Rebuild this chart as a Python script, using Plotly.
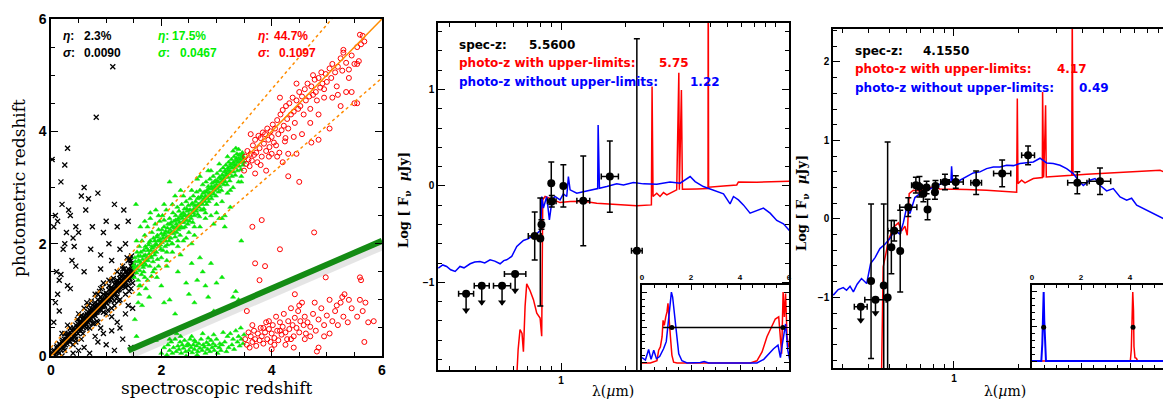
import numpy as np
import plotly.graph_objects as go

# ---------------- data: panel 1 (spec-z vs photo-z) ----------------
black_pts = [(0.05,0.08),(0.08,0.02),(0.1,0.15),(0.12,0.1),(0.15,0.22),(0.17,0.12),(0.2,0.25),(0.22,0.18),(0.24,0.3),(0.26,0.2),
(0.28,0.35),(0.3,0.27),(0.31,0.4),(0.33,0.28),(0.35,0.42),(0.36,0.3),(0.38,0.45),(0.4,0.36),(0.41,0.5),(0.43,0.4),
(0.45,0.55),(0.46,0.42),(0.48,0.52),(0.5,0.46),(0.51,0.6),(0.52,0.5),(0.54,0.62),(0.55,0.48),(0.57,0.66),(0.58,0.55),
(0.6,0.7),(0.61,0.58),(0.62,0.72),(0.63,0.6),(0.65,0.75),(0.66,0.62),(0.68,0.78),(0.69,0.66),(0.7,0.82),(0.71,0.68),
(0.72,0.8),(0.74,0.72),(0.75,0.9),(0.76,0.7),(0.78,0.88),(0.79,0.76),(0.8,0.95),(0.81,0.78),(0.82,0.9),(0.84,0.8),
(0.85,1.0),(0.86,0.82),(0.88,0.96),(0.89,0.86),(0.9,1.05),(0.91,0.88),(0.92,1.0),(0.94,0.9),(0.95,1.1),(0.96,0.92),
(0.98,1.08),(0.99,0.96),(1.0,1.12),(1.01,0.95),(1.02,1.05),(1.04,1.0),(1.05,1.18),(1.06,1.02),(1.08,1.2),(1.09,1.05),
(1.1,1.22),(1.11,1.08),(1.12,1.15),(1.14,1.1),(1.15,1.28),(1.16,1.1),(1.18,1.25),(1.19,1.15),(1.2,1.35),(1.21,1.18),
(1.22,1.3),(1.24,1.2),(1.25,1.38),(1.26,1.22),(1.28,1.35),(1.29,1.25),(1.3,1.45),(1.31,1.28),(1.32,1.4),(1.34,1.3),
(1.35,1.5),(1.36,1.32),(1.38,1.45),(1.39,1.35),(1.4,1.55),(1.41,1.38),(1.42,1.5),(1.44,1.42),(1.45,1.6),(1.46,1.4),
(1.48,1.52),(1.49,1.45),(0.3,0.55),(0.4,0.2),(0.5,0.75),(0.55,0.3),(0.65,0.95),(0.7,0.5),(0.8,1.1),(0.85,0.6),
(0.9,1.2),(1.0,0.75),(1.05,1.35),(1.1,0.85),(1.2,1.5),(1.25,1.0),(1.3,1.6),(1.35,1.1),(1.4,1.7),(1.45,1.2),
(0.95,1.3),(1.15,0.9),(0.6,0.85),(0.45,0.25),(0.2,0.4),(0.15,0.05),(0.25,0.1),(1.38,1.75),(1.42,1.15),(1.48,1.3),
(1.47,1.65),(1.33,1.55),(0.73,0.98),(0.83,0.62),(0.93,1.22),(1.03,0.82),(1.13,1.38),(1.23,0.98),(1.43,1.72),(0.53,0.7),
(0.03,0.05),(0.06,0.1),(0.09,0.06),(0.11,0.18),(0.13,0.08),(0.16,0.2),(0.19,0.15),(0.21,0.28),(0.23,0.14),(0.27,0.3),
(0.29,0.22),(0.32,0.36),(0.34,0.25),(0.37,0.38),(0.39,0.3),(0.42,0.46),(0.44,0.35),(0.47,0.5),(0.49,0.4),(0.5,0.56),
(0.53,0.45),(0.56,0.6),(0.57,0.52),(0.59,0.64),(0.6,0.54),(0.62,0.66),(0.64,0.56),(0.66,0.72),(0.67,0.6),(0.69,0.74),
(0.7,0.64),(0.72,0.76),(0.73,0.66),(0.75,0.82),(0.77,0.74),(0.78,0.82),(0.8,0.72),(0.82,0.86),(0.83,0.78),(0.85,0.92),
(0.87,0.84),(0.88,0.9),(0.9,0.82),(0.92,0.96),(0.93,0.88),(0.95,1.0),(0.97,0.9),(0.98,1.02),(1.0,0.94),(1.02,1.1),
(1.03,0.98),(1.05,1.08),(1.07,1.0),(1.08,1.14),(1.1,1.04),(1.12,1.2),(1.13,1.1),(1.15,1.2),(1.17,1.12),(1.18,1.3),
(1.2,1.16),(1.22,1.25),(1.23,1.18),(1.25,1.32),(1.27,1.25),(1.28,1.4),(1.3,1.3),(1.32,1.36),(1.33,1.28),(1.35,1.42),
(1.37,1.36),(1.38,1.5),(1.4,1.4),(1.42,1.46),(1.43,1.38),(1.45,1.52),(1.47,1.45),(1.48,1.58),(1.5,1.5),(0.55,0.72),
(0.65,0.5),(0.75,0.58),(0.85,1.1),(0.95,0.78),(1.05,1.25),(1.15,0.98),(1.25,1.45),(1.35,1.22),(1.45,1.7),(0.35,0.5),
(0.45,0.3),(0.25,0.4),(1.1,1.35),(1.2,1.05),(1.3,1.55),(1.4,1.25),(1.46,1.78),(1.49,1.6),(0.88,1.15),(0.78,0.58),
(0.68,0.9),(0.58,0.4),(0.48,0.65),
(0.02,3.5),(0.05,2.3),(0.08,2.5),(0.1,1.5),(0.12,2.4),(0.15,1.35),(0.18,3.1),(0.2,2.7),(0.22,1.9),(0.25,2.0),
(0.28,2.2),(0.3,3.7),(0.32,2.6),(0.35,2.5),(0.38,1.7),(0.4,2.1),(0.45,2.3),(0.5,2.2),(0.55,2.85),(0.6,3.0),
(0.63,2.6),(0.68,2.8),(0.72,1.9),(0.75,2.3),(0.82,4.25),(0.85,2.9),(0.9,1.8),(0.95,2.2),(1.0,2.4),(1.05,2.0),
(1.12,5.15),(1.15,2.7),(1.2,2.3),(1.25,1.9),(1.32,2.6),(1.4,2.4),(0.45,1.6),(0.12,1.1),(0.08,0.95),(0.05,0.6),
(0.15,0.8),(0.35,1.2),(0.6,1.5),(0.9,1.55),(1.1,1.7),(1.35,2.0),(0.25,3.4),(0.18,1.45),(0.3,1.25),(0.42,1.95),
(0.2,0.0),(0.4,0.05),(0.6,0.15),(0.7,0.05),(0.8,0.35),(0.9,0.5),(1.0,0.2),(1.1,0.45),(1.15,0.1),(1.2,0.6),
(1.3,0.3),(1.35,0.75),(1.4,0.9),(1.45,0.15),(1.1,0.7),(0.95,0.4),(0.5,0.1),(1.25,0.5),(1.48,0.85),(0.85,0.25)]

green_pts = [(1.50,1.62),(1.51,1.40),(1.52,1.75),(1.53,1.55),(1.54,2.70),(1.55,1.48),(1.56,1.85),(1.57,1.60),(1.58,1.35),(1.59,1.70),
(1.60,1.95),(1.61,1.52),(1.62,1.78),(1.63,1.65),(1.64,1.45),(1.65,2.05),(1.66,1.72),(1.67,1.58),(1.68,1.88),(1.69,1.66),
(1.70,2.15),(1.71,1.80),(1.72,1.62),(1.73,1.92),(1.74,1.75),(1.75,2.30),(1.76,1.70),(1.77,1.98),(1.78,1.82),(1.79,1.60),
(1.80,2.05),(1.81,1.88),(1.82,1.75),(1.83,2.20),(1.84,1.92),(1.85,1.68),(1.86,2.10),(1.87,1.95),(1.88,1.80),(1.89,2.35),
(1.90,2.00),(1.91,1.85),(1.92,2.12),(1.93,1.72),(1.94,2.05),(1.95,2.25),(1.96,1.95),(1.97,2.40),(1.98,2.08),(1.99,1.90),
(2.00,2.18),(2.01,2.02),(2.02,2.50),(2.03,1.88),(2.04,2.15),(2.05,2.30),(2.06,2.05),(2.07,1.95),(2.08,2.22),(2.09,2.60),
(2.10,2.12),(2.11,1.98),(2.12,2.35),(2.13,2.20),(2.14,2.05),(2.15,2.45),(2.16,2.25),(2.17,2.10),(2.18,2.38),(2.19,2.00),
(2.20,2.30),(2.21,2.55),(2.22,2.18),(2.23,2.40),(2.24,2.28),(2.25,2.12),(2.26,2.50),(2.27,2.35),(2.28,2.20),(2.29,2.65),
(2.30,2.42),(2.31,2.25),(2.32,2.58),(2.33,2.38),(2.34,2.15),(2.35,2.48),(2.36,2.30),(2.37,2.70),(2.38,2.45),(2.39,2.28),
(2.40,2.55),(2.41,2.38),(2.42,2.62),(2.43,2.30),(2.44,2.50),(2.45,2.75),(2.46,2.42),(2.47,2.58),(2.48,2.35),(2.49,2.68),
(2.50,2.52),(2.51,2.40),(2.52,2.80),(2.53,2.60),(2.54,2.45),(2.55,2.70),(2.56,2.55),(2.57,2.38),(2.58,2.85),(2.59,2.62),
(2.60,2.50),(2.62,2.75),(2.63,2.58),(2.64,2.92),(2.65,2.68),(2.66,2.52),(2.67,2.82),(2.68,2.65),(2.69,2.48),(2.70,2.95),
(2.71,2.72),(2.72,2.60),(2.73,2.85),(2.74,2.70),(2.75,3.05),(2.76,2.78),(2.77,2.62),(2.78,2.92),(2.79,2.75),(2.80,2.85),
(2.81,3.10),(2.82,2.70),(2.83,2.95),(2.84,2.80),(2.85,3.02),(2.86,2.75),(2.87,2.90),(2.88,3.15),(2.89,2.85),(2.90,2.98),
(2.91,2.80),(2.92,3.08),(2.93,2.92),(2.94,3.20),(2.95,2.88),(2.96,3.02),(2.97,2.95),(2.98,3.12),(2.99,2.85),(3.00,3.05),
(3.01,3.25),(3.02,2.98),(3.03,3.10),(3.04,2.92),(3.05,3.18),(3.06,3.02),(3.07,3.30),(3.08,3.08),(3.09,2.95),(3.10,3.22),
(3.11,3.12),(3.12,3.35),(3.13,3.05),(3.14,3.18),(3.15,3.28),(3.16,3.10),(3.17,3.40),(3.18,3.22),(3.19,3.05),(3.20,3.30),
(3.21,3.18),(3.22,3.45),(3.23,3.25),(3.24,3.12),(3.25,3.38),(3.26,3.28),(3.27,3.50),(3.28,3.20),(3.29,3.35),(3.30,3.42),
(3.31,3.28),(3.32,3.55),(3.33,3.35),(3.34,3.22),(3.35,3.48),(3.36,3.40),(3.37,3.60),(3.38,3.30),(3.39,3.45),(3.40,3.52),
(3.41,3.38),(3.42,3.58),(3.43,3.45),(3.44,3.32),(3.45,3.55),(3.46,3.48),(3.47,3.62),(3.48,3.40),(3.49,3.52),(3.50,3.45),
(1.51,1.58),(1.53,1.68),(1.56,1.55),(1.58,1.78),(1.61,1.68),(1.63,1.85),(1.66,1.62),(1.68,1.78),(1.71,1.95),(1.73,1.70),
(1.76,1.88),(1.78,2.02),(1.81,1.78),(1.83,1.95),(1.86,1.85),(1.88,2.05),(1.91,1.98),(1.93,2.15),(1.96,2.05),(1.98,1.98),
(2.01,2.25),(2.03,2.10),(2.06,2.18),(2.08,2.05),(2.11,2.28),(2.13,2.12),(2.16,2.35),(2.18,2.20),(2.21,2.30),(2.23,2.22),
(2.26,2.42),(2.28,2.30),(2.31,2.45),(2.33,2.28),(2.36,2.52),(2.38,2.38),(2.41,2.50),(2.43,2.42),(2.46,2.62),(2.48,2.48),
(2.51,2.60),(2.53,2.50),(2.56,2.72),(2.58,2.55),(2.61,2.68),(2.63,2.62),(2.66,2.80),(2.68,2.70),(2.71,2.82),(2.73,2.72),
(2.76,2.90),(2.78,2.80),(2.81,2.92),(2.83,2.82),(2.86,2.98),(2.88,2.90),(2.91,3.02),(2.93,2.98),(2.96,3.10),(2.98,3.00),
(3.01,3.12),(3.03,3.02),(3.06,3.18),(3.08,3.15),(3.11,3.22),(3.13,3.15),(3.16,3.30),(3.18,3.25),(3.21,3.35),(3.23,3.30),
(3.26,3.42),(3.28,3.35),(3.31,3.45),(3.33,3.40),(3.36,3.52),(3.38,3.48),(3.41,3.58),(3.43,3.50),(3.46,3.60),(3.48,3.55),
(1.7,2.4),(1.8,2.55),(1.95,2.5),(2.05,2.42),(2.2,2.7),(2.4,2.85),(2.55,2.95),(2.7,3.2),(2.9,3.3),(3.05,3.42),
(3.2,3.55),(3.3,3.65),(3.4,3.68),(3.45,3.1),(3.25,2.95),(3.0,2.7),(2.8,2.55),(2.6,2.3),(2.3,2.05),(2.1,1.85),
(1.55,2.05),(1.6,1.25),(1.62,2.3),(1.7,1.4),(1.75,1.35),(1.8,2.45),(1.85,1.5),(1.9,2.6),(1.95,1.6),(2.0,1.75),
(2.05,2.7),(2.1,1.7),(2.15,3.1),(2.2,1.85),(2.25,2.85),(2.3,1.95),(2.35,2.95),(2.4,2.05),(2.5,2.2),(2.6,2.15),
(2.65,3.15),(2.7,2.3),(2.8,2.45),(2.85,3.3),(2.9,2.5),(3.0,2.55),(3.1,2.75),(3.15,2.5),(3.2,2.9),(3.3,3.0),
(3.35,3.7),(3.4,3.1),(3.45,3.2),(3.48,3.55),(3.05,2.45),(2.95,2.35),(2.75,2.6),(2.55,2.0),(2.45,2.1),(3.25,2.65),
(1.52,0.65),(1.55,0.35),(1.58,0.95),(1.6,1.1),(1.62,1.25),(1.65,0.9),(1.68,1.5),(1.72,1.2),(1.78,1.05),(1.82,1.42),
(1.88,1.55),(1.92,1.4),(2.0,1.25),(2.05,0.95),(2.1,1.6),(2.15,1.0),(2.2,2.0),(2.25,0.75),(2.3,1.5),(2.35,1.8),
(2.45,1.3),(2.5,1.1),(2.55,1.65),(2.6,0.95),(2.65,1.35),(2.7,1.75),(2.75,1.5),(2.8,1.25),(2.85,1.05),(2.9,1.65),
(2.95,0.8),(3.0,1.3),(3.1,1.4),(3.15,2.3),(3.2,0.85),(3.3,1.05),(3.35,1.15),(3.4,1.0),(3.45,2.05),(3.1,2.45),
(1.9,0.28),(2.0,0.05),(2.05,0.15),(2.1,0.02),(2.12,0.2),(2.15,0.1),(2.18,0.25),(2.2,0.05),(2.22,0.15),(2.25,0.3),
(2.27,0.08),(2.3,0.18),(2.32,0.12),(2.34,0.25),(2.36,0.05),(2.38,0.2),(2.4,0.14),(2.42,0.28),(2.44,0.08),(2.46,0.18),
(2.48,0.22),(2.5,0.1),(2.52,0.3),(2.54,0.15),(2.56,0.06),(2.58,0.2),(2.6,0.12),(2.62,0.25),(2.64,0.18),(2.66,0.08),
(2.68,0.22),(2.7,0.14),(2.72,0.3),(2.74,0.1),(2.76,0.2),(2.78,0.16),(2.8,0.05),(2.82,0.24),(2.84,0.12),(2.86,0.2),
(2.88,0.08),(2.9,0.28),(2.92,0.15),(2.94,0.22),(2.96,0.1),(2.98,0.18),(3.0,0.3),(3.02,0.05),(3.05,0.15),(3.08,0.1),
(3.1,0.2),(3.15,0.25),(3.18,0.08),(3.2,0.35),(3.22,0.15),(3.25,0.4),(3.28,0.2),(3.3,0.3),(3.32,0.12),(3.35,0.45),
(3.38,0.25),(3.4,0.35),(3.42,0.18),(3.45,0.3),(3.48,0.22),(3.5,0.38),(2.35,0.35),(2.55,0.35),(2.65,0.02),(2.85,0.32),
(2.45,0.0),(3.12,0.42),(2.28,0.4),(2.95,0.38),(2.75,0.4),(3.44,0.5),(2.15,0.3),(3.06,0.22),(2.6,0.28),(2.5,0.2)]

red_pts = [(3.50,3.30),(3.52,3.55),(3.54,3.42),(3.56,3.65),(3.58,3.50),(3.60,3.38),(3.62,3.60),(3.64,3.48),(3.66,3.75),(3.68,3.58),
(3.70,3.85),(3.72,3.62),(3.74,3.45),(3.76,3.92),(3.78,3.70),(3.80,3.88),(3.82,3.55),(3.84,3.98),(3.86,3.78),(3.88,3.95),
(3.90,3.65),(3.92,4.05),(3.94,3.85),(3.96,3.72),(3.98,4.00),(4.00,3.90),(4.02,4.12),(4.04,3.80),(4.06,4.05),(4.08,3.75),
(4.10,4.20),(4.12,3.95),(4.14,3.62),(4.16,4.30),(4.18,4.02),(4.20,4.38),(4.22,4.10),(4.24,3.82),(4.26,4.45),(4.28,4.22),
(4.30,4.05),(4.32,4.50),(4.35,4.30),(4.38,4.60),(4.40,4.35),(4.42,4.15),(4.45,4.55),(4.48,4.40),(4.50,4.70),(4.52,4.45),
(4.55,4.62),(4.58,4.30),(4.60,4.75),(4.62,4.55),(4.65,4.85),(4.68,4.62),(4.70,4.40),(4.72,4.80),(4.75,4.65),(4.78,4.92),
(4.80,4.70),(4.82,4.55),(4.85,4.95),(4.88,4.78),(4.90,5.05),(4.92,4.85),(4.95,4.60),(4.98,5.02),(5.00,4.88),(5.05,5.12),
(5.08,4.95),(5.10,5.20),(5.15,5.05),(5.18,4.80),(5.20,5.15),(5.25,5.30),(5.28,5.08),(5.30,5.45),(5.35,5.22),(5.40,5.10),
(5.45,5.35),(5.50,5.20),(5.55,5.50),(5.58,5.25),(5.62,5.55),(5.65,5.70),(5.68,5.60),(5.60,5.72),(3.80,3.40),(3.90,3.30),
(4.00,3.60),(4.10,3.55),(4.25,3.88),(4.40,3.90),(4.55,3.95),(4.70,4.15),(4.85,4.30),(4.95,4.75),(5.20,4.65),(5.35,4.70),
(5.45,4.70),(5.55,4.50),(3.70,3.25),(3.62,3.95),(4.15,4.60),(4.45,4.85),(4.75,5.00),(5.30,5.40),(5.55,5.20),(5.40,4.95),
(5.10,4.60),(4.30,3.60),(3.95,3.55),
(3.65,2.30),(3.70,1.65),(3.82,2.42),(3.88,1.60),(3.78,1.35),(4.15,1.90),(4.77,2.20),(4.50,3.10),(4.98,1.40),(4.42,1.10),
(5.60,1.40),(5.62,1.35),(4.20,3.45),(4.72,3.80),(4.85,3.85),(5.05,4.05),(5.25,4.45),(5.50,4.50),(3.55,0.80),(4.30,3.20),
(4.45,3.60),
(3.52,0.30),(3.55,0.20),(3.58,0.42),(3.60,0.15),(3.62,0.35),(3.65,0.25),(3.68,0.45),(3.70,0.30),(3.72,0.18),(3.75,0.40),
(3.78,0.28),(3.80,0.50),(3.82,0.35),(3.85,0.22),(3.88,0.42),(3.90,0.60),(3.92,0.30),(3.95,0.48),(3.98,0.25),(4.00,0.40),
(4.02,0.55),(4.05,0.32),(4.08,0.70),(4.10,0.45),(4.12,0.28),(4.15,0.60),(4.18,0.38),(4.20,0.52),(4.22,0.75),(4.25,0.42),
(4.28,0.30),(4.30,0.62),(4.32,0.48),(4.35,0.85),(4.38,0.55),(4.40,0.35),(4.42,0.68),(4.45,0.50),(4.48,0.80),(4.50,0.42),
(4.52,0.62),(4.55,0.95),(4.58,0.55),(4.60,0.70),(4.62,0.40),(4.65,0.60),(4.70,0.52),(4.75,0.75),(4.80,0.45),(4.85,0.65),
(4.90,0.85),(4.95,0.55),(5.00,0.72),(5.05,1.00),(5.10,0.62),(5.15,0.80),(5.20,0.55),(5.25,0.95),(5.30,0.70),(5.32,1.10),
(5.38,0.60),(5.45,0.85),(5.55,0.70),(5.60,1.00),(5.65,0.80),(5.70,0.95),(5.75,0.60),(5.85,0.62),(5.68,0.25),(4.82,0.08),
(4.85,0.15),(4.95,0.35),(4.40,0.15),(4.00,0.12),(3.85,0.50),(4.25,0.20),(4.60,0.30),(5.05,0.40),(5.18,0.90),(3.95,0.62),
(4.15,0.45),(4.50,0.90),(4.70,0.35),(5.40,1.00),(3.65,0.55),(4.05,0.20),(4.35,0.30),(4.78,0.95),(5.28,1.05)]

eta_labels = ["2.3%", "17.5%", "44.7%"]
sigma_labels = ["0.0090", "0.0467", "0.1097"]
one_to_one = [0, 6]
outlier_frac = 0.15
catastrophic_line_x = [1.4, 6.0]
catastrophic_line_y = [0.1, 2.05]

# ---------------- data: panel 2 SED (spec-z 5.56) ----------------
p2_blue_lam = [0.267,0.280,0.292,0.305,0.320,0.337,0.352,0.376,0.395,0.418,0.440,0.466,0.49,0.519,0.540,0.557,0.588,0.621,0.667,0.700,
0.730,0.770,0.804,0.812,0.827,0.857,0.882,0.908,0.937,0.989,1.025,1.063,1.082,1.102,1.184,1.272,1.366,1.483,1.490,1.511,
1.635,1.820,1.956,2.178,2.425,2.80,3.23,3.60,4.01,4.23,4.62,4.97,5.34,5.74,6.16,6.39,6.74,7.11,7.64,8.21,8.82,9.48,10.18,10.94,11.66]
p2_blue_f = [-0.853,-0.82,-0.836,-0.87,-0.888,-0.836,-0.85,-0.808,-0.79,-0.784,-0.80,-0.767,-0.78,-0.808,-0.775,-0.767,-0.732,-0.629,-0.566,-0.55,
-0.525,-0.497,-0.456,-0.11,-0.23,-0.11,-0.352,-0.145,-0.11,-0.145,-0.083,-0.11,0.097,-0.041,-0.076,-0.059,-0.041,-0.028,0.632,-0.024,
-0.007,0.021,0.01,0.035,0.021,0.017,0.041,0.028,0.097,0.045,-0.007,-0.035,-0.059,-0.083,-0.187,-0.11,-0.145,-0.197,-0.283,-0.256,-0.231,-0.283,-0.359,-0.394,-0.463]
p2_red_lam = [0.621,0.630,0.643,0.657,0.667,0.679,0.691,0.716,0.743,0.770,0.798,0.812,0.821,0.842,0.921,0.989,1.102,1.272,1.468,1.694,
1.956,2.258,2.643,2.662,2.69,2.80,2.90,3.01,3.12,3.47,3.55,3.57,3.65,3.69,4.31,4.86,4.87,4.89,5.74,6.62,6.74,8.21,11.66]
p2_red_f = [-1.98,-1.70,-1.49,-1.53,-1.72,-1.25,-1.016,-1.085,-1.18,-1.32,-1.37,-1.56,-0.145,-0.11,-0.145,-0.173,-0.162,-0.159,-0.18,-0.187,
-0.197,-0.207,-0.197,1.03,-0.11,-0.076,-0.11,-0.069,-0.093,-0.041,1.174,-0.04,0.995,-0.035,-0.031,-0.028,2.5,-0.014,0.0,0.01,0.041,0.038,0.048]
p2_ul_lam = [0.36, 0.426, 0.53, 0.61]
p2_ul_f = [-1.12, -1.036, -1.036, -0.915]
p2_ul_xerr = [0.035, 0.035, 0.04, 0.05]
p2_det_lam = [0.753, 0.80, 0.81, 0.90, 0.905, 1.025, 1.27, 1.69, 2.26]
p2_det_f = [-0.52, -0.546, -0.40, 0.028, -0.16, 0.0, -0.155, 0.097, -0.674]
p2_det_eup = [0.25, 0.42, 0.05, 0.22, 0.06, 0.22, 0.465, 0.37, 2.2]
p2_det_edn = [0.25, 0.70, 0.05, 0.22, 0.06, 0.22, 0.465, 0.37, 2.0]
p2_det_xerr = [0.03, 0.0, 0.0, 0.0, 0.02, 0.0, 0.03, 0.04, 0.025]
p2_texts = ["5.5600", "5.75", "1.22"]

# inset 2: P(z)
pz2_red_z = [0,0.34,0.61,0.68,0.75,0.82,0.86,0.91,0.97,1.02,1.06,1.10,1.16,1.22,1.29,1.43,4.42,4.69,4.90,5.10,5.31,5.44,5.58,5.65,5.70,5.76,5.81,5.86,5.92,5.99]
pz2_red_p = [0,0,0.03,0.18,0.225,0.37,0.60,0.53,0.65,0.72,0.84,0.60,0.37,0.11,0.01,0,0,0.03,0.155,0.37,0.53,0.62,0.65,0.37,0.13,1.0,0.65,0.98,0.37,0.22]
pz2_blue_z = [0,0.14,0.27,0.37,0.48,0.59,0.72,0.88,0.99,1.07,1.13,1.20,1.25,1.32,1.40,1.50,1.63,1.84,2.38,2.54,2.72,4.69,4.97,5.17,5.37,5.55,5.65,5.71,5.78,5.86,5.95,6.03]
pz2_blue_p = [0.075,0.04,0.19,0.05,0.18,0.06,0.09,0.2,0.3,0.55,0.79,1.0,0.93,0.69,0.37,0.13,0.03,0,0.005,0.02,0,0,0.05,0.13,0.2,0.25,0.075,0.225,0.41,0.55,0.18,0.04]
pz2_range_z = [0.86, 5.8]
pz2_best_z = [1.22, 5.75]

# ---------------- data: panel 3 SED (spec-z 4.155) ----------------
p3_blue_lam = [0.273,0.288,0.304,0.315,0.327,0.339,0.353,0.370,0.391,0.408,0.428,0.451,0.476,0.502,0.530,0.559,0.580,0.601,0.623,0.657,
0.694,0.745,0.800,0.860,0.924,0.968,0.975,0.986,1.067,1.146,1.231,1.323,1.421,1.527,1.641,1.763,1.894,2.034,2.186,2.349,
2.523,2.71,2.91,3.13,3.36,3.61,3.81,4.02,4.32,4.56,4.81,5.17,5.55,5.97,6.41,6.76,7.14,7.95,8.85,9.51,10.33]
p3_blue_f = [-0.972,-0.90,-0.875,-0.909,-0.858,-0.93,-0.832,-0.76,-0.824,-0.569,-0.493,-0.378,-0.323,-0.25,-0.144,-0.195,-0.051,0.144,0.068,0.272,
0.323,0.365,0.408,0.442,0.471,0.471,0.671,0.471,0.493,0.535,0.586,0.599,0.641,0.662,0.662,0.684,0.679,0.705,0.718,0.726,
0.773,0.713,0.705,0.684,0.641,0.577,0.493,0.425,0.493,0.514,0.429,0.357,0.386,0.28,0.238,0.263,0.174,0.11,0.047,0.004,-0.081]
p3_red_lam = [0.459,0.467,0.481,0.493,0.521,0.550,0.570,0.590,0.605,0.618,0.646,0.694,0.745,0.800,0.860,0.993,1.146,1.421,1.641,1.963,
1.977,1.991,2.07,2.147,2.349,2.587,2.595,2.624,2.662,2.68,2.70,3.13,3.548,3.57,3.60,4.17,5.36,6.89,8.24,9.18,9.86,10.33]
p3_red_f = [-1.97,-0.611,-0.442,-0.28,-0.11,-0.051,-0.153,-0.093,-0.208,0.323,0.365,0.357,0.386,0.408,0.382,0.382,0.374,0.365,0.352,0.34,
1.533,0.45,0.493,0.459,0.514,0.527,1.618,0.527,1.087,1.448,0.535,0.544,0.556,2.6,0.556,0.569,0.586,0.599,0.611,0.62,0.586,0.569]
p3_ul_lam = [0.367, 0.43]
p3_ul_f = [-1.12, -1.03]
p3_ul_xerr = [0.03, 0.05]
p3_det_lam = [0.41,0.47,0.49,0.51,0.526,0.561,0.612,0.664,0.69,0.72,0.753,0.745,0.815,0.82,0.908,1.02,1.27,1.68,2.22,3.77,4.81]
p3_det_f = [-0.79,-0.85,-1.0,-0.36,-0.15,-0.41,0.15,0.43,0.41,0.32,0.12,0.40,0.34,0.42,0.47,0.47,0.46,0.58,0.81,0.46,0.48]
p3_det_eup = [0.98,1.04,1.98,0.34,0.13,0.52,0.12,0.10,0.13,0.10,0.13,0.08,0.09,0.07,0.10,0.08,0.15,0.17,0.12,0.14,0.17]
p3_det_edn = [0.99,1.10,1.00,0.34,0.13,0.52,0.12,0.10,0.13,0.10,0.13,0.08,0.09,0.07,0.10,0.08,0.15,0.17,0.12,0.14,0.17]
p3_det_xerr = [0.0,0.0,0.0,0.0,0.03,0.0,0.04,0.02,0.0,0.0,0.0,0.0,0.0,0.0,0.02,0.035,0.025,0.04,0.03,0.045,0.05]
p3_texts = ["4.1550", "4.17", "0.49"]

# inset 3: P(z)
pz3_red_z = [0,3.95,4.01,4.05,4.08,4.11,4.14,4.16,4.20,4.26,4.31,5.7]
pz3_red_p = [0,0,0,0.16,0.69,1.0,0.74,0.21,0.05,0.04,0,0]
pz3_blue_z = [0,0.38,0.42,0.45,0.476,0.50,0.53,0.57,5.7]
pz3_blue_p = [0,0,0.25,0.74,1.0,0.59,0.16,0,0]
pz3_best_z = [0.476, 4.12]

# ---------------- figure ----------------
W, H = 1171, 401
OFF = 8  # page body margin in the browser
def px(x): return (x - OFF) / W
def py(y): return 1 - (y - OFF) / H

RED = "#ff0000"
BLUE = "#0000ff"
GREEN = "#00ee00"
ORANGE = "#ff8c00"
UL_DROP = 0.2

fig = go.Figure()

bx, by = zip(*black_pts)
gx, gy = zip(*green_pts)
rx, ry = zip(*red_pts)
fig.add_trace(go.Scatter(x=bx, y=by, mode="markers", xaxis="x", yaxis="y",
    marker=dict(symbol="x-thin", size=5, line=dict(width=1.3, color="black"), color="black")))
fig.add_trace(go.Scatter(x=gx, y=gy, mode="markers", xaxis="x", yaxis="y",
    marker=dict(symbol="triangle-up", size=4.5, color=GREEN, line=dict(width=0.6, color="#22dd22"))))
fig.add_trace(go.Scatter(x=rx, y=ry, mode="markers", xaxis="x", yaxis="y",
    marker=dict(symbol="circle-open", size=5, line=dict(width=1, color=RED), color=RED)))

zz = np.linspace(0, 6, 61)
fig.add_trace(go.Scatter(x=one_to_one, y=one_to_one, mode="lines", line=dict(color=ORANGE, width=1.5)))
fig.add_trace(go.Scatter(x=zz, y=zz + outlier_frac * (1 + zz), mode="lines", line=dict(color=ORANGE, width=1.5, dash="dot")))
fig.add_trace(go.Scatter(x=zz, y=zz - outlier_frac * (1 + zz), mode="lines", line=dict(color=ORANGE, width=1.5, dash="dot")))
fig.add_trace(go.Scatter(x=[v + 0.04 for v in catastrophic_line_x], y=[v - 0.07 for v in catastrophic_line_y],
    mode="lines", line=dict(color="rgba(0,0,0,0.10)", width=9)))
fig.add_trace(go.Scatter(x=catastrophic_line_x, y=catastrophic_line_y, mode="lines", line=dict(color="#148c14", width=6)))

def xerr_arrays(lam, dex):
    lam = np.array(lam); dex = np.array(dex)
    return lam * (10 ** dex - 1), lam * (1 - 10 ** (-dex))

def sed_panel(xa, ya, blue_lam, blue_f, red_lam, red_f, ul_lam, ul_f, ul_xerr, det_lam, det_f, eup, edn, dxerr):
    fig.add_trace(go.Scatter(x=red_lam, y=red_f, mode="lines", xaxis=xa, yaxis=ya, line=dict(color=RED, width=1.5)))
    fig.add_trace(go.Scatter(x=blue_lam, y=blue_f, mode="lines", xaxis=xa, yaxis=ya, line=dict(color=BLUE, width=1.5)))
    fig.add_trace(go.Scatter(x=ul_lam, y=ul_f, mode="markers", xaxis=xa, yaxis=ya, marker=dict(size=1, color="black"),
        error_y=dict(type="data", symmetric=False, array=[0] * len(ul_f), arrayminus=[UL_DROP] * len(ul_f),
                     color="black", thickness=1.5, width=0)))
    fig.add_trace(go.Scatter(x=ul_lam, y=[f - UL_DROP + 0.03 for f in ul_f], mode="markers", xaxis=xa, yaxis=ya,
        marker=dict(symbol="triangle-down", size=7, color="black")))
    p, m = xerr_arrays(ul_lam, ul_xerr)
    fig.add_trace(go.Scatter(x=ul_lam, y=ul_f, mode="markers", xaxis=xa, yaxis=ya,
        marker=dict(size=8, color="black"),
        error_x=dict(type="data", symmetric=False, array=p, arrayminus=m, color="black", thickness=1.5, width=3)))
    p, m = xerr_arrays(det_lam, dxerr)
    fig.add_trace(go.Scatter(x=det_lam, y=det_f, mode="markers", xaxis=xa, yaxis=ya,
        marker=dict(size=8, color="black"),
        error_x=dict(type="data", symmetric=False, array=p, arrayminus=m, color="black", thickness=1.5, width=3),
        error_y=dict(type="data", symmetric=False, array=eup, arrayminus=edn, color="black", thickness=1.5, width=3)))

sed_panel("x2", "y2", p2_blue_lam, p2_blue_f, p2_red_lam, p2_red_f, p2_ul_lam, p2_ul_f, p2_ul_xerr,
          p2_det_lam, p2_det_f, p2_det_eup, p2_det_edn, p2_det_xerr)
sed_panel("x3", "y3", p3_blue_lam, p3_blue_f, p3_red_lam, p3_red_f, p3_ul_lam, p3_ul_f, p3_ul_xerr,
          p3_det_lam, p3_det_f, p3_det_eup, p3_det_edn, p3_det_xerr)

fig.add_trace(go.Scatter(x=pz2_red_z, y=pz2_red_p, mode="lines", xaxis="x4", yaxis="y4", line=dict(color=RED, width=1.5)))
fig.add_trace(go.Scatter(x=pz2_blue_z, y=pz2_blue_p, mode="lines", xaxis="x4", yaxis="y4", line=dict(color=BLUE, width=1.5)))
fig.add_trace(go.Scatter(x=pz2_range_z, y=[0.5, 0.5], mode="lines", xaxis="x4", yaxis="y4", line=dict(color="black", width=1.5)))
fig.add_trace(go.Scatter(x=pz2_best_z, y=[0.5, 0.5], mode="markers", xaxis="x4", yaxis="y4", marker=dict(color="black", size=5)))
fig.add_trace(go.Scatter(x=pz3_red_z, y=pz3_red_p, mode="lines", xaxis="x5", yaxis="y5", line=dict(color=RED, width=1.5)))
fig.add_trace(go.Scatter(x=pz3_blue_z, y=pz3_blue_p, mode="lines", xaxis="x5", yaxis="y5", line=dict(color=BLUE, width=2)))
fig.add_trace(go.Scatter(x=pz3_best_z, y=[0.49, 0.49], mode="markers", xaxis="x5", yaxis="y5", marker=dict(color="black", size=5)))

tickf = dict(family="Liberation Sans", size=14, color="black", weight="bold")
small_tickf = dict(family="Liberation Sans", size=10, color="black", weight="bold")
inset_tickf = dict(family="Liberation Sans", size=8, color="black", weight="bold")

def frame(**kw):
    d = dict(showline=True, linecolor="black", linewidth=1.5, ticks="inside", tickcolor="black",
             tickwidth=1.2, showgrid=False, zeroline=False, mirror="allticks", automargin=False)
    d.update(kw)
    return d

minor_log = [0.3,0.4,0.5,0.6,0.7,0.8,0.9,2,3,4,5,6,7,8,9,10]

fig.update_layout(
    width=W, height=H, margin=dict(l=0, r=0, t=0, b=0, autoexpand=False),
    paper_bgcolor="white", plot_bgcolor="white", showlegend=False,
    xaxis=frame(domain=[px(51), px(382)], range=[0, 6], tickvals=[0, 2, 4, 6], ticklen=7,
                minor=dict(dtick=0.5, ticks="inside", ticklen=4, tickcolor="black"), tickfont=tickf, anchor="y"),
    yaxis=frame(domain=[py(356), py(19)], range=[0, 6], tickvals=[0, 2, 4, 6], ticklen=7,
                minor=dict(dtick=0.5, ticks="inside", ticklen=4, tickcolor="black"), tickfont=tickf, anchor="x"),
    xaxis2=frame(type="log", domain=[px(438), px(789)], range=[-0.575, 1.065], tickvals=[1], ticktext=["1"], ticklen=7,
                 minor=dict(tickvals=minor_log, ticks="inside", ticklen=4, tickcolor="black"), tickfont=small_tickf, anchor="y2"),
    yaxis2=frame(domain=[py(370), py(23)], range=[-1.91, 1.69], tickvals=[-1, 0, 1], ticklen=7,
                 minor=dict(dtick=0.2, ticks="inside", ticklen=4, tickcolor="black"), tickfont=small_tickf, anchor="x2"),
    xaxis3=frame(type="log", domain=[px(833), px(1171)], range=[-0.565, 1.014], tickvals=[1], ticktext=["1"], ticklen=7,
                 minor=dict(tickvals=minor_log, ticks="inside", ticklen=4, tickcolor="black"), tickfont=small_tickf, anchor="y3"),
    yaxis3=frame(domain=[py(368), py(29)], range=[-1.9, 2.42], tickvals=[-1, 0, 1, 2], ticklen=7, mirror=False,
                 minor=dict(dtick=0.2, ticks="inside", ticklen=4, tickcolor="black"), tickfont=small_tickf, anchor="x3"),
    xaxis4=frame(domain=[px(642), px(789)], range=[0, 6], tickvals=[0, 2, 4, 6], side="top", ticklen=5,
                 minor=dict(dtick=0.5, ticks="inside", ticklen=3, tickcolor="black"), tickfont=inset_tickf, anchor="y4"),
    yaxis4=frame(domain=[py(370), py(285)], range=[-0.1, 1.1], showticklabels=False, tickvals=[0, 0.5, 1], ticklen=5,
                 minor=dict(dtick=0.1, ticks="inside", ticklen=3, tickcolor="black"), anchor="x4"),
    xaxis5=frame(domain=[px(1032), px(1171)], range=[0, 5.67], tickvals=[0, 2, 4], side="top", ticklen=5,
                 minor=dict(dtick=0.5, ticks="inside", ticklen=3, tickcolor="black"), tickfont=inset_tickf, anchor="y5"),
    yaxis5=frame(domain=[py(368), py(285)], range=[-0.1, 1.1], showticklabels=False, tickvals=[0, 0.5, 1], ticklen=5,
                 mirror=False, minor=dict(dtick=0.1, ticks="inside", ticklen=3, tickcolor="black"), anchor="x5"),
)

def ann(x, y, text, color="black", size=12, family="Liberation Sans", weight="normal", xanchor="left", yanchor="middle", angle=0):
    fig.add_annotation(x=px(x), y=py(y), xref="paper", yref="paper", text=text, showarrow=False,
                       xanchor=xanchor, yanchor=yanchor, textangle=angle,
                       font=dict(family=family, size=size, color=color, weight=weight))

cols = ["black", "#00ee00", RED]
eta_x = [(61, 82), (156, 170), (256, 272)]
sig_x = [(61, 82), (156, 178), (256, 277)]
for i in range(3):
    ann(eta_x[i][0], 36, "<i>η</i>:", cols[i], 12, weight="bold")
    ann(eta_x[i][1], 36, eta_labels[i], cols[i], 12, weight="bold")
    ann(sig_x[i][0], 53, "<i>σ</i>:", cols[i], 12, weight="bold")
    ann(sig_x[i][1], 53, sigma_labels[i], cols[i], 12, weight="bold")

ann(217, 388, "spectroscopic redshift", size=17, family="DejaVu Serif", xanchor="center")
ann(19, 188, "photometric redshift", size=17, family="DejaVu Serif", xanchor="center", angle=-90)

def sed_texts(x0, xnum, ys, vals):
    ann(x0, ys[0], "spec-z:", "black", 12, family="DejaVu Sans", weight="bold")
    ann(xnum[0], ys[0], vals[0], "black", 12, family="DejaVu Sans", weight="bold")
    ann(x0, ys[1], "photo-z with upper-limits:", RED, 12, family="DejaVu Sans", weight="bold")
    ann(xnum[1], ys[1], vals[1], RED, 12, family="DejaVu Sans", weight="bold")
    ann(x0, ys[2], "photo-z without upper-limits:", BLUE, 12, family="DejaVu Sans", weight="bold")
    ann(xnum[2], ys[2], vals[2], BLUE, 12, family="DejaVu Sans", weight="bold")

sed_texts(457, [527, 657, 688], [45, 63, 82], p2_texts)
sed_texts(853, [921, 1055, 1077], [51, 69, 88], p3_texts)

ylab = "Log [ F<sub>ν</sub>  <i>µ</i>Jy]"
ann(405, 200, ylab, size=13, family="DejaVu Serif", weight="bold", xanchor="center", angle=-90)
ann(802, 203, ylab, size=13, family="DejaVu Serif", weight="bold", xanchor="center", angle=-90)
ann(613, 381, "λ(<i>µ</i>m)", size=14, family="DejaVu Serif", xanchor="center", yanchor="top")
ann(1005, 381, "λ(<i>µ</i>m)", size=14, family="DejaVu Serif", xanchor="center", yanchor="top")

fig.write_html("out.html")
